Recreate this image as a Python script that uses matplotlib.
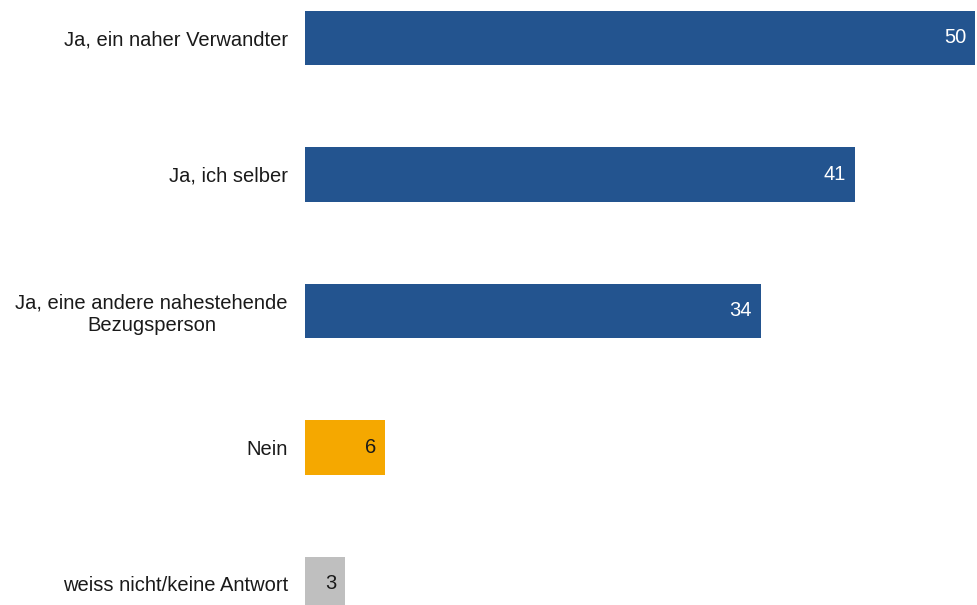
import matplotlib.pyplot as plt
from matplotlib.transforms import ScaledTranslation

plt.rcParams['font.family'] = ['Liberation Sans', 'DejaVu Sans']

# Antworten und Anteile in Prozent
categories = ["Ja, ein naher Verwandter", "Ja, ich selber",
              "Ja, eine andere nahestehende\nBezugsperson", "Nein",
              "weiss nicht/keine Antwort"]
values = [50, 41, 34, 6, 3]
colors = ["#23548f", "#23548f", "#23548f", "#f5a800", "#bfbfbf"]
label_colors = ["white", "white", "white", "#1a1a1a", "#1a1a1a"]

fig = plt.figure(figsize=(9.78, 6.05), dpi=100)
ax = fig.add_axes([305 / 978, 0, 673 / 978, 1])

pos = list(range(len(values)))
bars = ax.barh(pos, values, height=0.4, color=colors)

ax.set_xlim(0, 50.2)
ax.set_ylim(4.154, -0.278)

ax.set_yticks(pos)
ax.set_yticklabels(categories, fontsize=14.5, ha='center', color='#1a1a1a',
                   linespacing=1.2)
ax.tick_params(axis='y', length=0, pad=0)
# Kategorienamen rechtsbündig neben die Balken setzen
for lbl in ax.get_yticklabels():
    lbl.set_horizontalalignment('right')
    lbl.set_transform(lbl.get_transform() + ScaledTranslation(-0.17, 0, fig.dpi_scale_trans))
ax.get_yticklabels()[2].set_multialignment('center')

ax.set_xticks([])
for s in ax.spines.values():
    s.set_visible(False)

# Werte in die Balkenenden schreiben
off = ScaledTranslation(-0.09, 0, fig.dpi_scale_trans)
for p, v, c in zip(pos, values, label_colors):
    ax.text(v, p, str(v), ha='right', va='center', fontsize=14.5, color=c,
            transform=ax.transData + off)

fig.savefig("out.png", dpi=100)
